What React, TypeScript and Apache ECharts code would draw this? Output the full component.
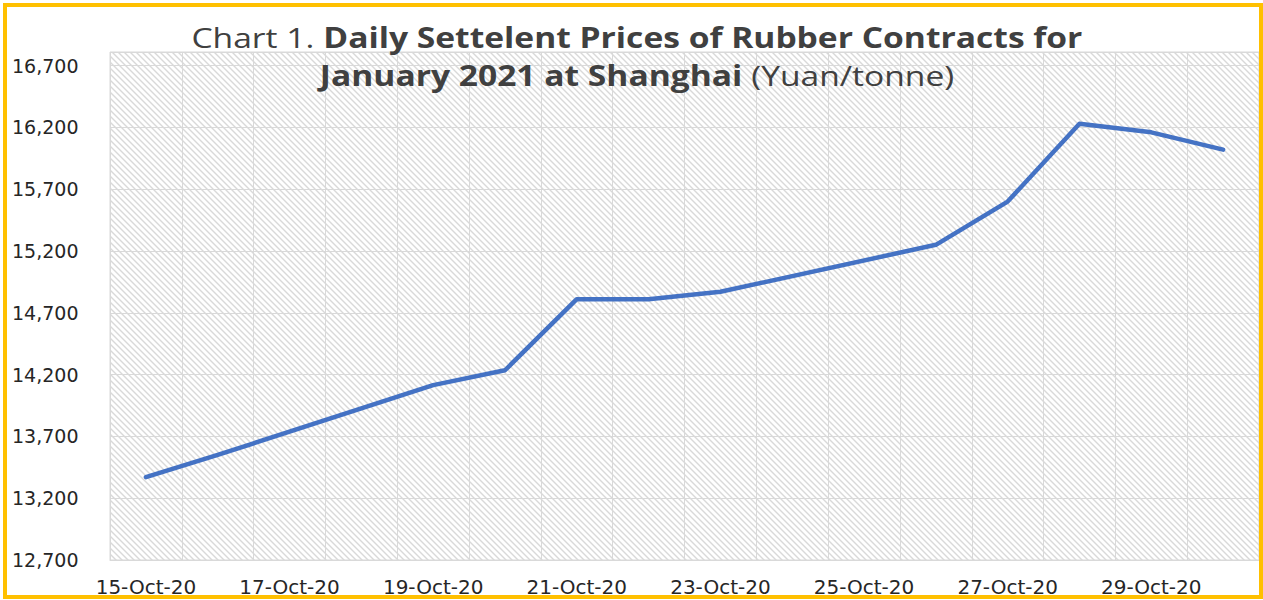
import React, { useEffect, useRef } from "react";
import * as echarts from "echarts";

const dates = [
  "15-Oct-20", "16-Oct-20", "17-Oct-20", "18-Oct-20", "19-Oct-20", "20-Oct-20",
  "21-Oct-20", "22-Oct-20", "23-Oct-20", "24-Oct-20", "25-Oct-20", "26-Oct-20",
  "27-Oct-20", "28-Oct-20", "29-Oct-20", "30-Oct-20",
];
const prices: (number | null)[] = [
  13370, 13550, null, null, 14115, 14235,
  14810, 14810, 14870, null, null, 15250,
  15600, 16230, 16160, 16020,
];
const yMin = 12700;
const yMax = 16810;
const yStep = 500;

function makeHatch() {
  const s = 6;
  const c = document.createElement("canvas");
  c.width = s;
  c.height = s;
  const ctx = c.getContext("2d")!;
  ctx.fillStyle = "#ffffff";
  ctx.fillRect(0, 0, s, s);
  ctx.strokeStyle = "#d9d9d9";
  ctx.lineWidth = 1.4;
  for (let k = -1; k <= 1; k++) {
    ctx.beginPath();
    ctx.moveTo(k * s - 1, -1);
    ctx.lineTo(k * s + s + 1, s + 1);
    ctx.stroke();
  }
  return c;
}

export default function App() {
  const ref = useRef<HTMLDivElement>(null);
  useEffect(() => {
    const chart = echarts.init(ref.current!, null, { renderer: "svg" });
    const hatch = makeHatch();
    chart.setOption({
      animation: false,
      backgroundColor: "#ffffff",
      graphic: [
        {
          type: "text",
          x: 637,
          y: 18,
          scaleX: 1.2,
          z: 50,
          style: {
            text:
              "{r|Chart 1. }{b|Daily Settelent Prices of Rubber Contracts for}\n{b|January 2021 at Shanghai}{r| (Yuan/tonne)}",
            align: "center",
            verticalAlign: "top",
            rich: {
              r: { fontFamily: "Open Sans", fontSize: 28, fontWeight: "normal", fill: "#404040", lineHeight: 38 },
              b: { fontFamily: "Open Sans", fontSize: 28, fontWeight: "bold", fill: "#404040", lineHeight: 38 },
            },
          },
        },
        {
          type: "rect",
          z: 100,
          shape: { x: 5, y: 5, width: 1256, height: 592 },
          style: { fill: "none", stroke: "#FFC000", lineWidth: 4 },
          silent: true,
        },
      ],
      grid: {
        left: 110,
        top: 52,
        right: 4,
        bottom: 40,
        show: true,
        backgroundColor: { image: hatch, repeat: "repeat", imageWidth: 6, imageHeight: 6 } as any,
        borderColor: "#d9d9d9",
        borderWidth: 1,
      },
      xAxis: {
        type: "category",
        data: dates,
        boundaryGap: true,
        axisLine: { lineStyle: { color: "#d9d9d9", width: 1 } },
        axisTick: { show: false, interval: 0 },
        axisLabel: {
          interval: 1,
          margin: 17,
          fontFamily: "DejaVu Sans",
          fontSize: 20,
          color: "#262626",
        },
        splitLine: { show: true, interval: 0, lineStyle: { color: "#d9d9d9", width: 1 } },
      },
      yAxis: {
        type: "value",
        min: yMin,
        max: yMax,
        interval: yStep,
        axisLine: { show: false },
        axisTick: { show: false },
        axisLabel: {
          showMaxLabel: false,
          align: "left",
          margin: 98,
          fontFamily: "DejaVu Sans",
          fontSize: 19,
          color: "#262626",
          formatter: (v: number) => v.toLocaleString("en-US"),
        },
        splitLine: { show: true, lineStyle: { color: "#d9d9d9", width: 1 } },
      },
      series: [
        {
          type: "line",
          data: prices,
          connectNulls: true,
          showSymbol: false,
          symbol: "none",
          lineStyle: { color: "#4472C4", width: 4.5, cap: "round", join: "round" },
        },
      ],
    });
    return () => chart.dispose();
  }, []);
  return (
    <div
      ref={ref}
      style={{ position: "absolute", left: 0, top: 0, width: 1263, height: 600 }}
    />
  );
}
